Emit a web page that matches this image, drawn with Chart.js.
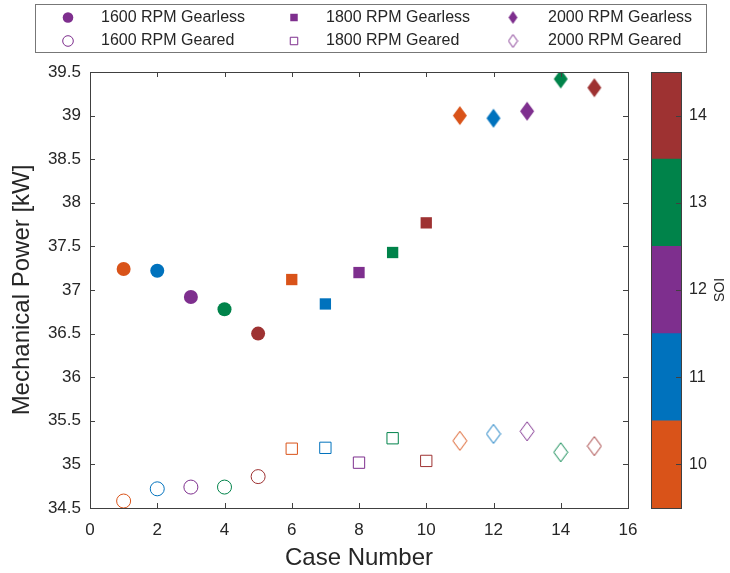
<!DOCTYPE html>
<html>
<head>
<meta charset="utf-8">
<script src="https://cdn.jsdelivr.net/npm/chart.js@4.4.1/dist/chart.umd.min.js"></script>
<style>
  html, body { margin: 0; padding: 0; background: #fff; }
  #wrap { position: relative; width: 730px; height: 573px; }
  #main { position: absolute; left: 0; top: 0; }
  #cbar { position: absolute; left: 600px; top: 0; }
</style>
</head>
<body>
<div id="wrap">
  <canvas id="main" width="730" height="573"></canvas>
  <canvas id="cbar" width="130" height="573"></canvas>
</div>
<script>
// data
const caseNumbers = [1, 2, 3, 4, 5, 6, 7, 8, 9, 10, 11, 12, 13, 14, 15];
const caseSoi = [10, 11, 12, 13, 14, 10, 11, 12, 13, 14, 10, 11, 12, 13, 14];
const gearlessPower = [37.24, 37.22, 36.92, 36.78, 36.50, 37.12, 36.84, 37.20, 37.43, 37.77, 39.00, 38.97, 39.05, 39.42, 39.32];
const gearedPower = [34.58, 34.72, 34.74, 34.74, 34.86, 35.18, 35.19, 35.02, 35.30, 35.04, 35.27, 35.35, 35.38, 35.14, 35.21];
const rpmLevels = [1600, 1800, 2000];
const soiLevels = [10, 11, 12, 13, 14];
const soiColors = ['#D95319', '#0072BD', '#7E2F8E', '#00834A', '#9E3232'];
const legendColor = '#7E2F8E';

const FONT = "'Liberation Sans', Arial, Helvetica, sans-serif";
const TEXT = '#262626';
const AXIS = '#404040';

function colorFor(s) {
  return soiColors[soiLevels.indexOf(s)];
}

function makeDiamond(color, filled, w, h) {
  const c = document.createElement('canvas');
  c.width = w + 2;
  c.height = h + 2;
  const g = c.getContext('2d');
  g.beginPath();
  g.moveTo(c.width / 2, 1);
  g.lineTo(c.width - 1, c.height / 2);
  g.lineTo(c.width / 2, c.height - 1);
  g.lineTo(1, c.height / 2);
  g.closePath();
  if (filled) {
    g.fillStyle = color;
    g.fill();
  } else {
    g.strokeStyle = color;
    g.lineWidth = 1;
    g.stroke();
  }
  return c;
}

const markerKinds = [
  { style: 'circle', radius: 7 },
  { style: 'rect', radius: 8 },
  { style: 'diamond' }
];

function buildDataset(groupIdx, geared) {
  const idx = [0, 1, 2, 3, 4].map(k => groupIdx * 5 + k);
  const values = geared ? gearedPower : gearlessPower;
  const kind = markerKinds[groupIdx];
  const colors = idx.map(i => colorFor(caseSoi[i]));
  let pointStyle = kind.style;
  if (kind.style === 'diamond') {
    pointStyle = colors.map(c => makeDiamond(c, !geared, 14, 19));
  }
  return {
    label: rpmLevels[groupIdx] + ' RPM ' + (geared ? 'Geared' : 'Gearless'),
    data: idx.map(i => ({ x: caseNumbers[i], y: values[i] })),
    pointStyle,
    pointRadius: kind.radius || 8,
    pointBackgroundColor: geared ? 'rgba(0,0,0,0)' : colors,
    pointBorderColor: colors,
    pointBorderWidth: geared ? 1 : 0,
    showLine: false
  };
}

const datasets = [];
[false, true].forEach(geared => {
  rpmLevels.forEach((r, g) => datasets.push(buildDataset(g, geared)));
});

// legend drawn in MATLAB style: 3 columns x 2 rows inside a box
const legendCols = [{ mx: 68, tx: 101 }, { mx: 294, tx: 326 }, { mx: 513, tx: 548 }];
const legendRows = [17.5, 41];

const frameTicks = {
  id: 'frameTicks',
  afterDraw(chart) {
    const { ctx, chartArea: a, scales } = chart;
    ctx.save();
    ctx.strokeStyle = AXIS;
    ctx.lineWidth = 1;
    ctx.beginPath();
    scales.x.ticks.forEach(t => {
      const px = Math.round(scales.x.getPixelForValue(t.value)) + 0.5;
      ctx.moveTo(px, a.bottom); ctx.lineTo(px, a.bottom - 5);
      ctx.moveTo(px, a.top); ctx.lineTo(px, a.top + 5);
    });
    scales.y.ticks.forEach(t => {
      const py = Math.round(scales.y.getPixelForValue(t.value)) + 0.5;
      ctx.moveTo(a.left, py); ctx.lineTo(a.left + 5, py);
      ctx.moveTo(a.right, py); ctx.lineTo(a.right - 5, py);
    });
    ctx.stroke();
    ctx.strokeRect(Math.round(a.left) + 0.5, Math.round(a.top) + 0.5,
      Math.round(a.right - a.left), Math.round(a.bottom - a.top));

    // legend
    ctx.fillStyle = '#fff';
    ctx.fillRect(35, 4, 672, 48);
    ctx.strokeStyle = '#777';
    ctx.strokeRect(35.5, 4.5, 671, 48);
    ctx.font = '16px ' + FONT;
    ctx.textBaseline = 'middle';
    ctx.textAlign = 'left';
    chart.data.datasets.forEach((ds, i) => {
      const geared = i >= 3;
      const col = legendCols[i % 3];
      const y = legendRows[geared ? 1 : 0];
      const kind = markerKinds[i % 3];
      let style = kind.style;
      let radius = 5.3;
      if (style === 'diamond') style = makeDiamond(legendColor, !geared, 9, 13);
      if (style === 'rect') radius = 5.3;
      ctx.fillStyle = geared ? 'rgba(0,0,0,0)' : legendColor;
      ctx.strokeStyle = legendColor;
      ctx.lineWidth = 1;
      Chart.helpers.drawPoint(ctx, {
        pointStyle: style, radius, rotation: 0, borderWidth: geared ? 1 : 0
      }, col.mx, y);
      ctx.fillStyle = TEXT;
      ctx.fillText(ds.label, col.tx, y);
    });
    ctx.restore();
  }
};

new Chart(document.getElementById('main'), {
  type: 'scatter',
  data: { datasets },
  options: {
    responsive: false,
    animation: false,
    layout: { padding: { left: 0, right: 102, top: 72, bottom: 0 } },
    plugins: { legend: { display: false }, tooltip: { enabled: false } },
    scales: {
      x: {
        type: 'linear',
        min: 0,
        max: 16,
        ticks: { stepSize: 2, padding: 12, color: TEXT, font: { family: FONT, size: 17 }, maxRotation: 0 },
        grid: { display: false, drawTicks: false },
        border: { display: false },
        title: { display: true, text: 'Case Number', color: TEXT, font: { family: FONT, size: 24 }, padding: { top: 0, bottom: 0 } },
        afterFit(scale) { scale.height = 65; }
      },
      y: {
        min: 34.5,
        max: 39.5,
        ticks: {
          stepSize: 0.5, padding: 9, color: TEXT, font: { family: FONT, size: 17 },
          callback: v => String(+v.toFixed(1))
        },
        grid: { display: false, drawTicks: false },
        border: { display: false },
        title: { display: true, text: 'Mechanical Power [kW]', color: TEXT, font: { family: FONT, size: 24 }, padding: { top: 8, bottom: 0 } },
        afterFit(scale) { scale.width = 90; }
      }
    }
  },
  plugins: [frameTicks]
});

// colorbar
const cbarFrame = {
  id: 'cbarFrame',
  afterDraw(chart) {
    const { ctx, chartArea: a, scales } = chart;
    ctx.save();
    ctx.strokeStyle = AXIS;
    ctx.lineWidth = 1;
    ctx.beginPath();
    scales.y.ticks.forEach(t => {
      const py = Math.round(scales.y.getPixelForValue(t.value)) + 0.5;
      ctx.moveTo(a.right, py); ctx.lineTo(a.right - 5, py);
    });
    ctx.stroke();
    ctx.strokeRect(Math.round(a.left) + 0.5, Math.round(a.top) + 0.5,
      Math.round(a.right - a.left), Math.round(a.bottom - a.top));
    ctx.translate(120, (a.top + a.bottom) / 2);
    ctx.rotate(-Math.PI / 2);
    ctx.fillStyle = TEXT;
    ctx.font = '14px ' + FONT;
    ctx.textAlign = 'center';
    ctx.textBaseline = 'middle';
    ctx.fillText('SOI', 0, 0);
    ctx.restore();
  }
};

new Chart(document.getElementById('cbar'), {
  type: 'bar',
  data: {
    labels: ['SOI'],
    datasets: soiLevels.map((s, i) => ({
      data: [[s - 0.5, s + 0.5]],
      backgroundColor: soiColors[i],
      grouped: false,
      barPercentage: 1,
      categoryPercentage: 1,
      borderWidth: 0
    }))
  },
  options: {
    responsive: false,
    animation: false,
    layout: { padding: { left: 51, right: 0, top: 72, bottom: 65 } },
    plugins: { legend: { display: false }, tooltip: { enabled: false } },
    scales: {
      x: { display: false },
      y: {
        position: 'right',
        min: 9.5,
        max: 14.5,
        afterBuildTicks(scale) { scale.ticks = soiLevels.map(v => ({ value: v })); },
        ticks: { padding: 8, color: TEXT, font: { family: FONT, size: 16 } },
        grid: { display: false, drawTicks: false },
        border: { display: false },
        afterFit(scale) { scale.width = 49; }
      }
    }
  },
  plugins: [cbarFrame]
});
</script>
</body>
</html>
